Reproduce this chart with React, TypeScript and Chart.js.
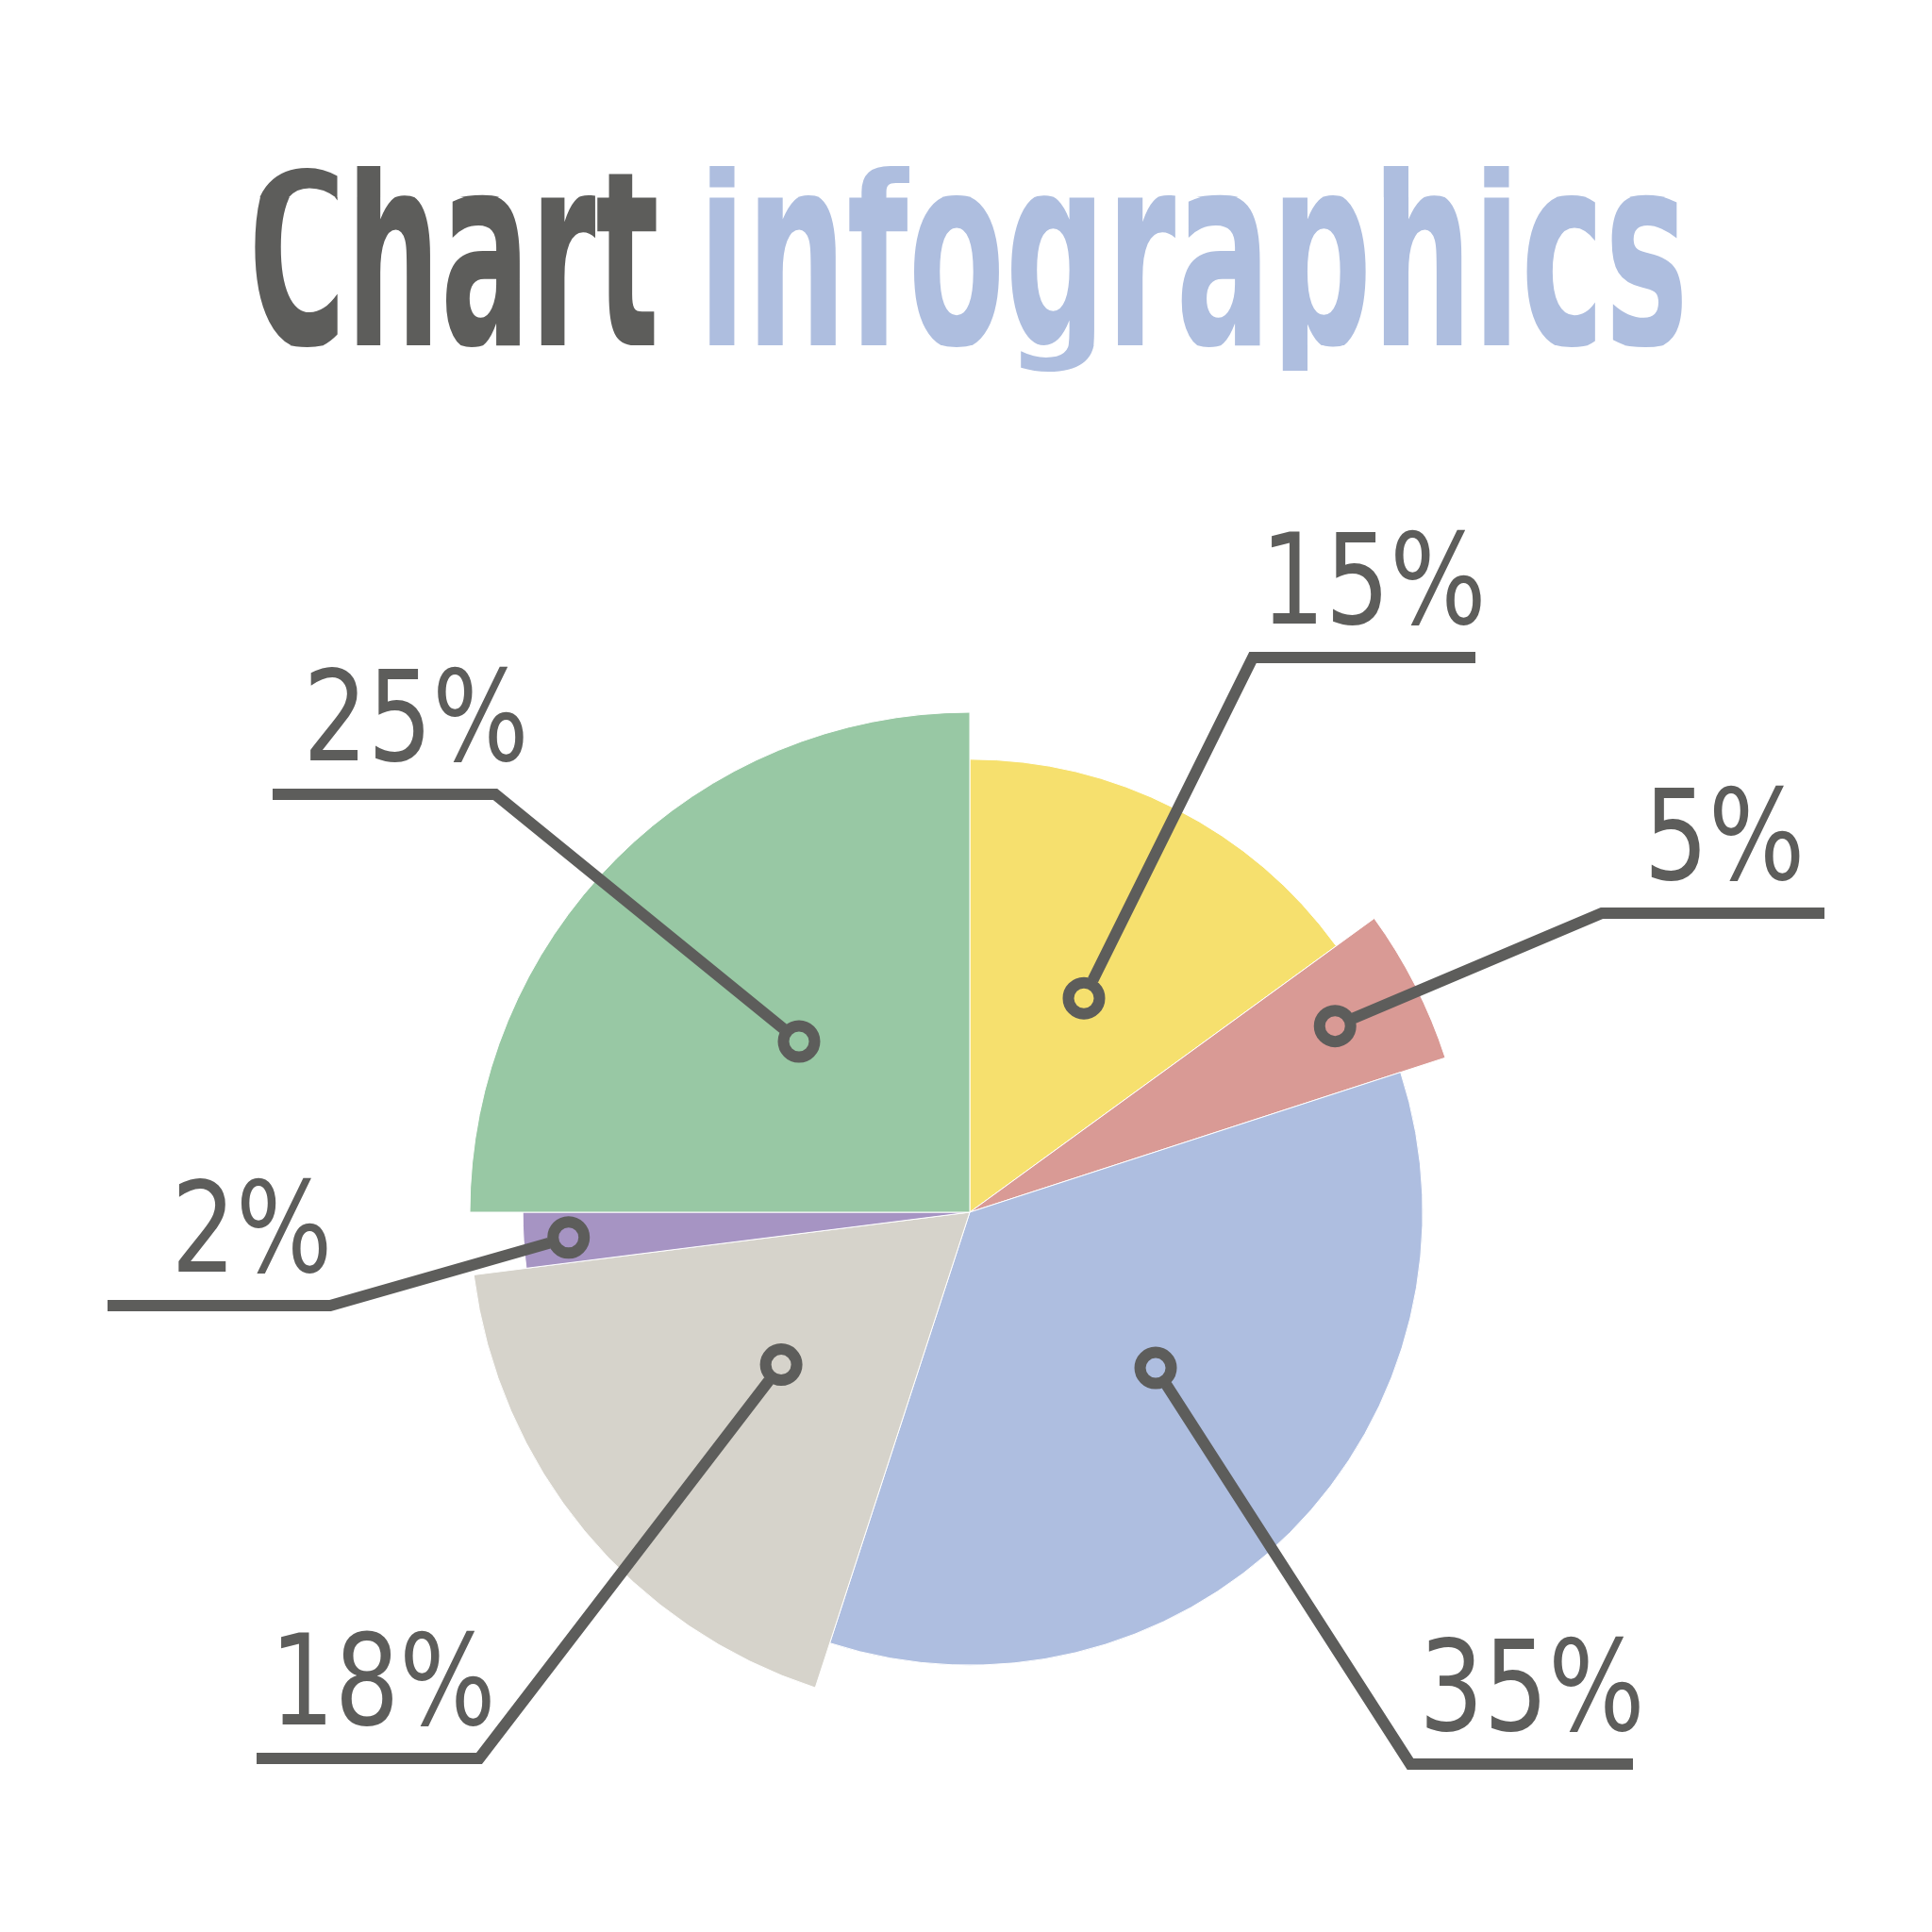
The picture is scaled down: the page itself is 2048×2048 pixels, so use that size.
import { useEffect, useRef } from "react";
import { Chart, registerables } from "chart.js";

Chart.register(...registerables);

// Share of each segment, clockwise from 12 o'clock
const SHARES = [15, 5, 35, 18, 2, 25];
const SHARE_LABELS = SHARES.map((v) => `${v}%`);
const SLICE_COLORS = ["#F6E06E", "#D99A95", "#AEBEE0", "#D6D3CB", "#A694C3", "#98C8A4"];

const TITLE_DARK = "Chart";
const TITLE_LIGHT = "infographics";

// Styling / layout
const INK = "#5D5D5B";
const TITLE_LIGHT_COLOR = "#AEBEDF";
const MAX_RADIUS = 530;
const SLICE_RADIUS_SCALE = [0.906, 1, 0.906, 1, 0.894, 1];
// marker position: t = fraction across the slice's angle, r = fraction of MAX_RADIUS
const MARKER_POS = [
  { t: 0.52, r: 0.485 },
  { t: 0.5, r: 0.82 },
  { t: 0.46, r: 0.485 },
  { t: 0.51, r: 0.485 },
  { t: 0.5, r: 0.804 },
  { t: 0.5, r: 0.483 },
];
// callout elbow relative to the pie centre, direction of the underline, text shift
const CALLOUTS = [
  { dx: 300, dy: -588, dir: 1, shift: 10 },
  { dx: 670, dy: -317, dir: 1, shift: 12 },
  { dx: 467, dy: 585, dir: 1, shift: 11 },
  { dx: -520, dy: 579, dir: -1, shift: 16 },
  { dx: -678, dy: 99, dir: -1, shift: 35 },
  { dx: -503, dy: -443, dir: -1, shift: 34 },
];
const UNDERLINE_LEN = 236;
const LINE_W = 12;
const RING_R = 16.5;

// Title geometry: baseline, x-height, cap height, descender depth
const TITLE_BASELINE = 366;
const TITLE_XH = 157;
const TITLE_CAP = 186;
const TITLE_DESC = 27;

const sliceRadiusPlugin = {
  id: "sliceRadius",
  beforeDatasetsDraw(chart: any) {
    const meta = chart.getDatasetMeta(0);
    meta.data.forEach((arc: any, i: number) => {
      arc.outerRadius = MAX_RADIUS * SLICE_RADIUS_SCALE[i];
    });
  },
};

const calloutPlugin = {
  id: "callouts",
  afterDatasetsDraw(chart: any) {
    const ctx: CanvasRenderingContext2D = chart.ctx;
    const meta = chart.getDatasetMeta(0);
    ctx.save();
    ctx.strokeStyle = INK;
    ctx.fillStyle = INK;
    ctx.lineWidth = LINE_W;
    ctx.lineJoin = "miter";
    ctx.lineCap = "butt";
    meta.data.forEach((arc: any, i: number) => {
      const cx = arc.x;
      const cy = arc.y;
      const m = MARKER_POS[i];
      const a = arc.startAngle + (arc.endAngle - arc.startAngle) * m.t;
      const px = cx + Math.cos(a) * MAX_RADIUS * m.r;
      const py = cy + Math.sin(a) * MAX_RADIUS * m.r;
      const c = CALLOUTS[i];
      const ex = cx + c.dx;
      const ey = cy + c.dy;
      const fx = ex + c.dir * UNDERLINE_LEN;
      const len = Math.hypot(ex - px, ey - py);
      const sx = px + ((ex - px) / len) * (RING_R + LINE_W / 2 - 1);
      const sy = py + ((ey - py) / len) * (RING_R + LINE_W / 2 - 1);
      ctx.beginPath();
      ctx.moveTo(sx, sy);
      ctx.lineTo(ex, ey);
      ctx.lineTo(fx, ey);
      ctx.stroke();
      ctx.beginPath();
      ctx.arc(px, py, RING_R, 0, Math.PI * 2);
      ctx.stroke();

      // value label above the underline
      const label = SHARE_LABELS[i];
      const mid = (ex + fx) / 2 + c.shift;
      ctx.save();
      ctx.font = "133px 'DejaVu Sans'";
      ctx.textBaseline = "alphabetic";
      ctx.textAlign = "center";
      ctx.translate(mid, ey - 36);
      ctx.scale(0.81, 1);
      ctx.fillText(label, 0, 0);
      ctx.restore();
    });
    ctx.restore();
  },
};

const titlePlugin = {
  id: "twoToneTitle",
  afterDraw(chart: any) {
    const ctx: CanvasRenderingContext2D = chart.ctx;
    ctx.save();
    ctx.font = "bold 255px 'DejaVu Sans'";
    ctx.textBaseline = "alphabetic";
    ctx.textAlign = "left";
    const srcXh = ctx.measureText("x").actualBoundingBoxAscent;
    const srcCap = ctx.measureText("H").actualBoundingBoxAscent;
    const srcDesc = ctx.measureText("p").actualBoundingBoxDescent;
    const sMid = TITLE_XH / srcXh;
    const sTop = (TITLE_CAP - TITLE_XH) / (srcCap - srcXh);
    const sDesc = TITLE_DESC / srcDesc;
    const B = TITLE_BASELINE;
    const X = B - TITLE_XH;

    // a condensed display face: each vertical band of the glyphs is scaled separately
    const drawWord = (text: string, left: number, right: number, color: string) => {
      const m = ctx.measureText(text);
      const inkL = m.actualBoundingBoxLeft;
      const inkW = m.actualBoundingBoxLeft + m.actualBoundingBoxRight;
      const sx = (right - left) / inkW;
      const bands = [
        { y0: 0, y1: X, ty: X + srcXh * sTop, sy: sTop },
        { y0: X, y1: B, ty: B, sy: sMid },
        { y0: B, y1: B + 200, ty: B, sy: sDesc },
      ];
      for (const b of bands) {
        ctx.save();
        ctx.beginPath();
        ctx.rect(left - 60, b.y0, right - left + 120, b.y1 - b.y0);
        ctx.clip();
        ctx.fillStyle = color;
        ctx.translate(left, b.ty);
        ctx.scale(sx, b.sy);
        ctx.fillText(text, inkL, 0);
        ctx.restore();
      }
    };
    drawWord(TITLE_DARK, 270, 696, INK);
    drawWord(TITLE_LIGHT, 752, 1783, TITLE_LIGHT_COLOR);
    ctx.restore();
  },
};

export default function App() {
  const canvasRef = useRef<HTMLCanvasElement | null>(null);

  useEffect(() => {
    const canvas = canvasRef.current;
    if (!canvas) return;
    const chart = new Chart(canvas, {
      type: "pie",
      data: {
        labels: SHARE_LABELS,
        datasets: [
          {
            data: SHARES,
            backgroundColor: SLICE_COLORS,
            borderColor: "#ffffff",
            borderWidth: 1,
            radius: MAX_RADIUS,
          } as any,
        ],
      },
      options: {
        responsive: false,
        animation: false,
        devicePixelRatio: 1,
        layout: { padding: { left: 500, right: 492, top: 760, bottom: 238 } },
        plugins: {
          legend: { display: false },
          title: { display: false },
          tooltip: { enabled: false },
        },
      },
      plugins: [sliceRadiusPlugin, calloutPlugin, titlePlugin],
    });
    return () => chart.destroy();
  }, []);

  return (
    <div style={{ position: "fixed", left: 0, top: 0, width: 2048, height: 2048, background: "#ffffff" }}>
      <canvas ref={canvasRef} width={2048} height={2048} style={{ width: 2048, height: 2048, display: "block" }} />
    </div>
  );
}
